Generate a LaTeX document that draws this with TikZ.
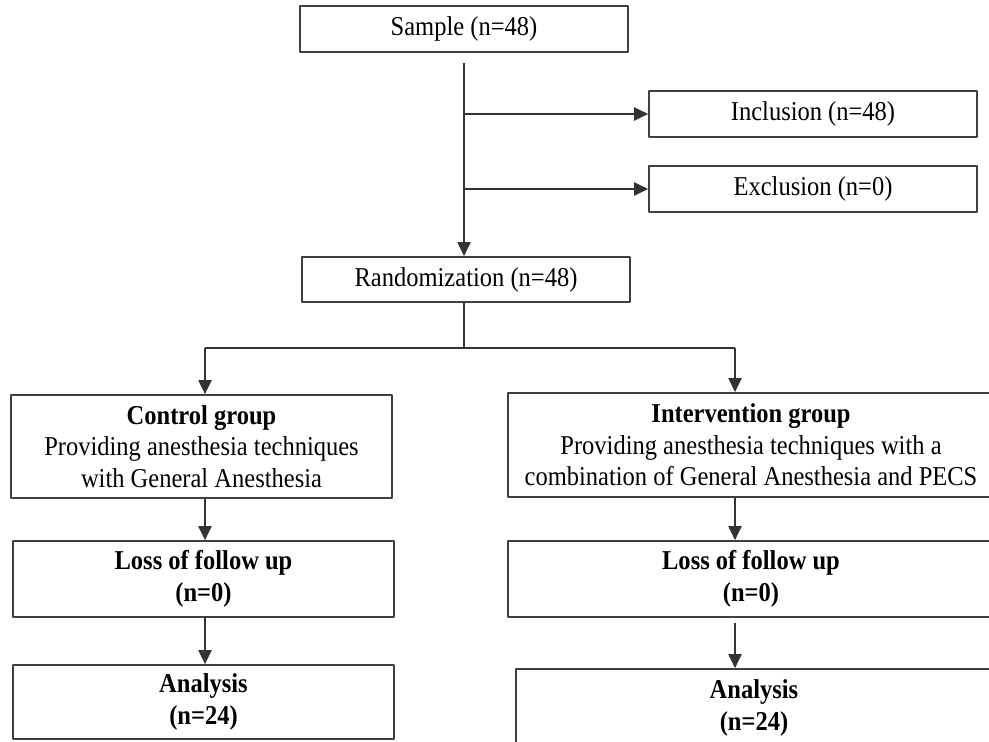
\documentclass[tikz,border=0pt]{standalone}
\usepackage{fontspec}
\setmainfont{Liberation Serif}[FakeStretch=0.9]
\usetikzlibrary{arrows.meta}
\begin{document}
\begin{tikzpicture}[x=0.02cm, y=-0.02cm, font=\fontsize{15.5}{18}\selectfont, line join=round, >={Triangle[length=8pt,width=7.5pt]},
	box/.style={draw=black!75, line width=1pt, inner sep=0pt, align=center},
	link/.style={draw=black!80, line width=1pt}]
	\useasboundingbox (0,0) rectangle (989,742);
	\clip (0,0) rectangle (989,742);
	% top part
	\node[box, minimum width=6.56cm, minimum height=0.92cm] (sample) at (464,29) {Sample (n=48)};
	\node[box, minimum width=6.56cm, minimum height=0.92cm] (incl) at (813,114) {Inclusion (n=48)};
	\node[box, minimum width=6.56cm, minimum height=0.92cm] (excl) at (813,189) {Exclusion (n=0)};
	\node[box, minimum width=6.56cm, minimum height=0.9cm] (rand) at (466,279.5) {Randomization (n=48)};
	% groups
	\node[box, minimum width=7.62cm, minimum height=2.06cm] (ctrl) at (201.5,446.5) {\textbf{Control group}\\Providing anesthesia techniques\\with General Anesthesia};
	\node[box, minimum width=9.72cm, minimum height=2.08cm] (intv) at (751,445) {\textbf{Intervention group}\\Providing anesthesia techniques with a\\combination of General Anesthesia and PECS};
	\node[box, minimum width=7.62cm, minimum height=1.52cm] (lossA) at (203.5,579) {\textbf{Loss of follow up}\\\textbf{(n=0)}};
	\node[box, minimum width=9.72cm, minimum height=1.52cm] (lossB) at (751,579) {\textbf{Loss of follow up}\\\textbf{(n=0)}};
	\node[box, minimum width=7.62cm, minimum height=1.48cm] (anaA) at (203.5,702) {\textbf{Analysis}\\\textbf{(n=24)}};
	\node[box, minimum width=9.52cm, minimum height=1.56cm] (anaB) at (754,708) {\textbf{Analysis}\\\textbf{(n=24)}};
	% connectors
	\coordinate (top) at (464,63);
	\coordinate (split) at (464,348);
	\coordinate (l) at (205,348);
	\coordinate (r) at (735,348);
	\draw[link, ->] (top) -- (top |- rand.north);
	\draw[link, ->] (top |- incl.west) -- (incl.west);
	\draw[link, ->] (top |- excl.west) -- (excl.west);
	\draw[link] (rand.south -| split) -- (split) (l) -- (r);
	\draw[link, ->] (l) -- (l |- ctrl.north);
	\draw[link, ->] (r) -- (r |- intv.north);
	\draw[link, ->] (l |- ctrl.south) -- (l |- lossA.north);
	\draw[link, ->] (r |- intv.south) -- (r |- lossB.north);
	\draw[link, ->] (l |- lossA.south) -- (l |- anaA.north);
	\draw[link, ->] ([yshift=-0.1cm]r |- lossB.south) -- (r |- anaB.north);
\end{tikzpicture}
\end{document}
